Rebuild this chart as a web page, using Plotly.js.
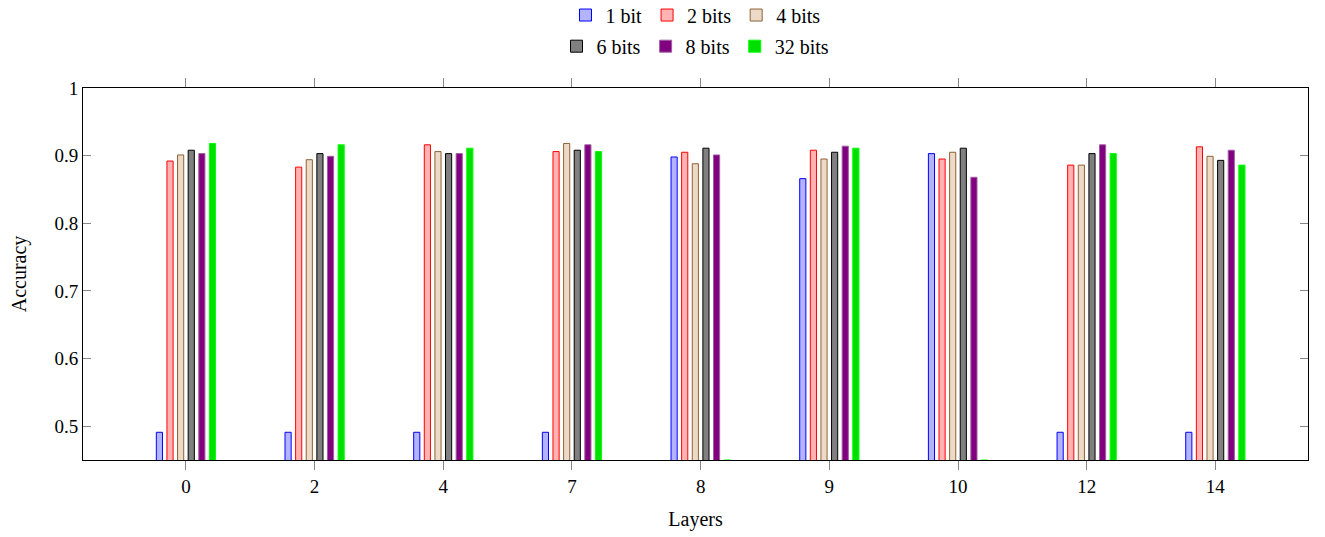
<!DOCTYPE html>
<html>
<head>
<meta charset="utf-8">
<script src="https://cdn.plot.ly/plotly-3.0.1.min.js"></script>
<style>html,body{margin:0;padding:0;background:#fff;}#chart{width:1325px;height:537px;}</style>
</head>
<body>
<div id="chart"></div>
<script>
const layers = ['0', '2', '4', '7', '8', '9', '10', '12', '14'];
const bits1  = [0.491, 0.491, 0.491, 0.491, 0.898, 0.866, 0.903, 0.491, 0.491];
const bits2  = [0.892, 0.883, 0.916, 0.906, 0.905, 0.908, 0.895, 0.886, 0.913];
const bits4  = [0.901, 0.894, 0.906, 0.918, 0.888, 0.895, 0.905, 0.886, 0.899];
const bits6  = [0.908, 0.903, 0.903, 0.908, 0.911, 0.905, 0.911, 0.903, 0.893];
const bits8  = [0.903, 0.899, 0.903, 0.916, 0.901, 0.914, 0.868, 0.916, 0.908];
const bits32 = [0.918, 0.916, 0.911, 0.906, 0.45, 0.911, 0.45, 0.903, 0.886];
const seriesNames = ['1 bit', '2 bits', '4 bits', '6 bits', '8 bits', '32 bits'];
const yTickVals = [0.5, 0.6, 0.7, 0.8, 0.9, 1];
const yTickText = ['0.5', '0.6', '0.7', '0.8', '0.9', '1'];

const styles = [
  {fill: '#b3b3ff', line: '#0000ff', legend: 'legend'},
  {fill: '#ffb3b3', line: '#ff0000', legend: 'legend'},
  {fill: '#ecd9c6', line: '#8c6239', legend: 'legend'},
  {fill: '#808080', line: '#000000', legend: 'legend2'},
  {fill: '#800080', line: '#a060a0', legend: 'legend2'},
  {fill: '#00e000', line: '#00ff00', legend: 'legend2'}
];
const allValues = [bits1, bits2, bits4, bits6, bits8, bits32];

const traces = allValues.map((vals, i) => ({
  type: 'bar',
  name: seriesNames[i],
  x: layers,
  y: vals,
  legend: styles[i].legend,
  marker: {color: styles[i].fill, line: {color: styles[i].line, width: 1}},
  hoverinfo: 'x+y+name'
}));

const fontFam = 'Liberation Serif';
const layout = {
  width: 1325,
  height: 537,
  margin: {l: 83, r: 17, t: 88, b: 77, autoexpand: false},
  paper_bgcolor: '#fff',
  plot_bgcolor: '#fff',
  font: {family: fontFam, size: 19, color: '#000'},
  barmode: 'group',
  bargap: 0.505,
  bargroupgap: 0.42,
  showlegend: true,
  xaxis: {
    type: 'category',
    range: [-0.80, 8.72],
    showline: true, mirror: 'ticks', linecolor: '#000', linewidth: 1,
    ticks: 'outside', ticklen: 9, tickcolor: '#888', tickwidth: 1,
    showgrid: false, zeroline: false,
    tickfont: {family: fontFam, size: 19},
    title: {text: 'Layers', font: {family: fontFam, size: 20}, standoff: 16}
  },
  yaxis: {
    range: [0.45, 1],
    tickvals: yTickVals, ticktext: yTickText,
    showline: true, mirror: 'ticks', linecolor: '#000', linewidth: 1,
    ticks: 'inside', ticklen: 8, tickcolor: '#888', tickwidth: 1,
    showgrid: false, zeroline: false,
    tickfont: {family: fontFam, size: 19},
    title: {text: 'Accuracy', font: {family: fontFam, size: 20}, standoff: 22}
  },
  legend: {
    orientation: 'h', x: 0.5, xanchor: 'center', xref: 'paper',
    y: 0.972, yanchor: 'middle', yref: 'container',
    font: {family: fontFam, size: 20}, itemwidth: 30, bgcolor: 'rgba(0,0,0,0)',
    traceorder: 'normal'
  },
  legend2: {
    orientation: 'h', x: 0.5, xanchor: 'center', xref: 'paper',
    y: 0.914, yanchor: 'middle', yref: 'container',
    font: {family: fontFam, size: 20}, itemwidth: 30, bgcolor: 'rgba(0,0,0,0)',
    traceorder: 'normal'
  }
};

Plotly.newPlot('chart', traces, layout, {displayModeBar: false, staticPlot: true});
</script>
</body>
</html>
